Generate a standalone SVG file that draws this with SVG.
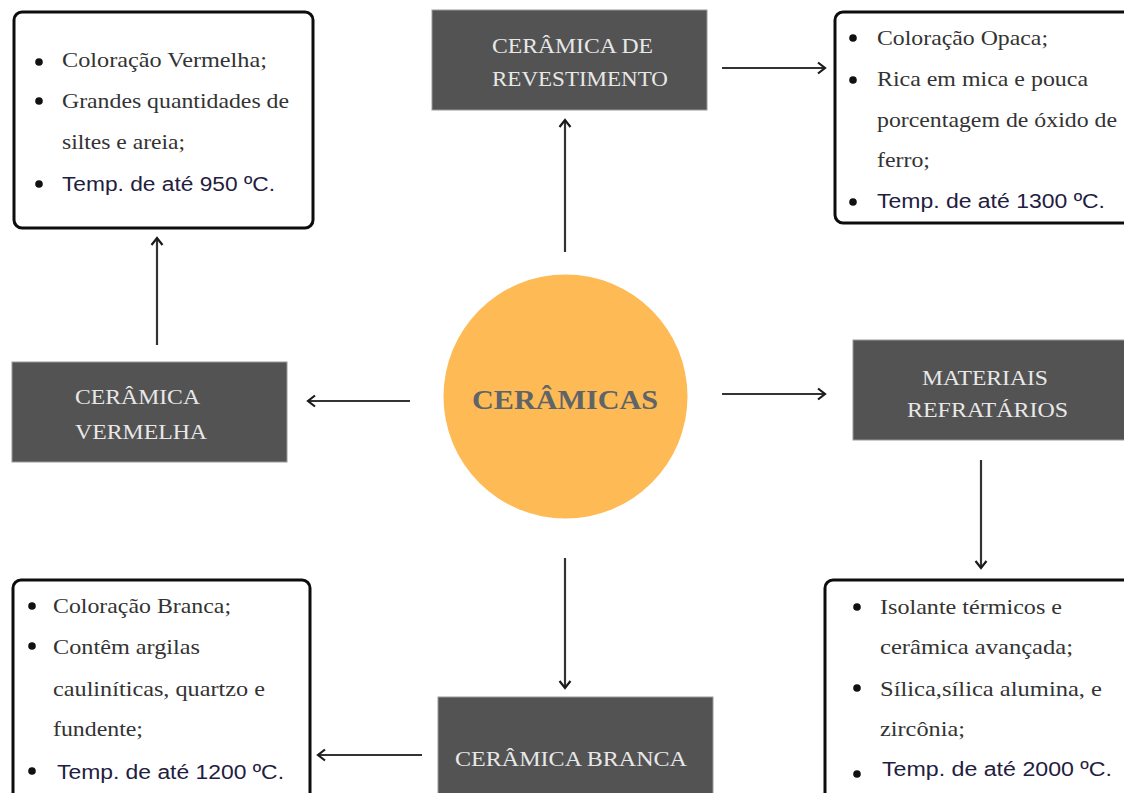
<svg xmlns="http://www.w3.org/2000/svg" width="1124" height="793" viewBox="0 0 1124 793">
<defs>
<marker id="ah" markerUnits="userSpaceOnUse" markerWidth="14" markerHeight="14" refX="10" refY="7" orient="auto">
<path d="M3,1.5 L10,7 L3,12.5" fill="none" stroke="#1a1a1a" stroke-width="2.2" stroke-linejoin="miter"/>
</marker>
<style>
.info{fill:#ffffff;stroke:#0d0d0d;stroke-width:3}
.dark{fill:#535353;stroke:#9a9a9a;stroke-width:1}
.dt{font-family:"Liberation Serif",serif;font-size:22px;fill:#e8e8e8}
.bt{font-family:"Liberation Serif",serif;font-size:22px;fill:#333333}
.tt{font-family:"Liberation Sans",sans-serif;font-size:20px;fill:#1f2040}
.bul{fill:#111111}
.conn{stroke:#333333;stroke-width:2.2;fill:none;marker-end:url(#ah)}
</style>
</defs>
<rect width="1124" height="793" fill="#ffffff"/>

<g id="connectors">
<line class="conn" x1="565" y1="252" x2="565" y2="120"/>
<line class="conn" x1="722" y1="68" x2="825" y2="68"/>
<line class="conn" x1="157" y1="345" x2="157" y2="238"/>
<line class="conn" x1="410" y1="401" x2="308" y2="401"/>
<line class="conn" x1="722" y1="394" x2="825" y2="394"/>
<line class="conn" x1="981" y1="460" x2="981" y2="568"/>
<line class="conn" x1="565" y1="558" x2="565" y2="688"/>
<line class="conn" x1="422" y1="755" x2="318" y2="755"/>
</g>

<g id="center">
<circle cx="565.5" cy="396.5" r="122" fill="#fdba55"/>
<text x="472" y="409" font-family="Liberation Serif,serif" font-weight="bold" font-size="28" fill="#5f6468" textLength="186" lengthAdjust="spacingAndGlyphs">CERÂMICAS</text>
</g>

<g id="revestimento">
<rect class="dark" x="432" y="10" width="275" height="100"/>
<text class="dt" x="492" y="53" textLength="161" lengthAdjust="spacingAndGlyphs">CERÂMICA DE</text>
<text class="dt" x="492" y="86" textLength="176" lengthAdjust="spacingAndGlyphs">REVESTIMENTO</text>
</g>

<g id="vermelha">
<rect class="dark" x="12" y="362" width="275" height="100"/>
<text class="dt" x="75" y="404" textLength="125" lengthAdjust="spacingAndGlyphs">CERÂMICA</text>
<text class="dt" x="75" y="439" textLength="132" lengthAdjust="spacingAndGlyphs">VERMELHA</text>
</g>

<g id="refratarios">
<rect class="dark" x="853" y="340" width="275" height="100"/>
<text class="dt" x="922" y="385" textLength="126" lengthAdjust="spacingAndGlyphs">MATERIAIS</text>
<text class="dt" x="907" y="417" textLength="161" lengthAdjust="spacingAndGlyphs">REFRATÁRIOS</text>
</g>

<g id="branca">
<rect class="dark" x="438" y="697" width="275" height="100"/>
<text class="dt" x="455" y="766" textLength="232" lengthAdjust="spacingAndGlyphs">CERÂMICA BRANCA</text>
</g>

<g id="info-vermelha">
<rect class="info" x="14" y="12" width="299" height="216" rx="8"/>
<circle class="bul" cx="39" cy="62" r="3.8"/>
<circle class="bul" cx="39" cy="101" r="3.8"/>
<circle class="bul" cx="39" cy="184" r="3.8"/>
<text class="bt" x="62" y="67" textLength="205" lengthAdjust="spacingAndGlyphs">Coloração Vermelha;</text>
<text class="bt" x="62" y="108" textLength="227" lengthAdjust="spacingAndGlyphs">Grandes quantidades de</text>
<text class="bt" x="62" y="149" textLength="123" lengthAdjust="spacingAndGlyphs">siltes e areia;</text>
<text class="tt" x="62" y="191" textLength="213" lengthAdjust="spacingAndGlyphs">Temp. de até 950 ºC.</text>
</g>

<g id="info-revestimento">
<rect class="info" x="835" y="12" width="300" height="211" rx="8"/>
<circle class="bul" cx="853" cy="38" r="3.8"/>
<circle class="bul" cx="853" cy="80" r="3.8"/>
<circle class="bul" cx="853" cy="202" r="3.8"/>
<text class="bt" x="877" y="45" textLength="171" lengthAdjust="spacingAndGlyphs">Coloração Opaca;</text>
<text class="bt" x="877" y="86" textLength="211" lengthAdjust="spacingAndGlyphs">Rica em mica e pouca</text>
<text class="bt" x="877" y="127" textLength="240" lengthAdjust="spacingAndGlyphs">porcentagem de óxido de</text>
<text class="bt" x="877" y="167" textLength="53" lengthAdjust="spacingAndGlyphs">ferro;</text>
<text class="tt" x="877" y="208" textLength="228" lengthAdjust="spacingAndGlyphs">Temp. de até 1300 ºC.</text>
</g>

<g id="info-branca">
<rect class="info" x="13" y="580" width="297" height="230" rx="8"/>
<circle class="bul" cx="32" cy="606" r="3.8"/>
<circle class="bul" cx="32" cy="646" r="3.8"/>
<circle class="bul" cx="32" cy="771" r="3.8"/>
<text class="bt" x="53" y="613" textLength="178" lengthAdjust="spacingAndGlyphs">Coloração Branca;</text>
<text class="bt" x="53" y="654" textLength="147" lengthAdjust="spacingAndGlyphs">Contêm argilas</text>
<text class="bt" x="53" y="696" textLength="212" lengthAdjust="spacingAndGlyphs">cauliníticas, quartzo e</text>
<text class="bt" x="53" y="736" textLength="90" lengthAdjust="spacingAndGlyphs">fundente;</text>
<text class="tt" x="57" y="779" textLength="227" lengthAdjust="spacingAndGlyphs">Temp. de até 1200 ºC.</text>
</g>

<g id="info-refratarios">
<rect class="info" x="825" y="580" width="310" height="230" rx="8"/>
<circle class="bul" cx="857" cy="607" r="3.8"/>
<circle class="bul" cx="857" cy="688" r="3.8"/>
<circle class="bul" cx="857" cy="774" r="3.8"/>
<text class="bt" x="880" y="614" textLength="182" lengthAdjust="spacingAndGlyphs">Isolante térmicos e</text>
<text class="bt" x="880" y="654" textLength="193" lengthAdjust="spacingAndGlyphs">cerâmica avançada;</text>
<text class="bt" x="880" y="696" textLength="222" lengthAdjust="spacingAndGlyphs">Sílica,sílica alumina, e</text>
<text class="bt" x="880" y="736" textLength="85" lengthAdjust="spacingAndGlyphs">zircônia;</text>
<text class="tt" x="882" y="776" textLength="230" lengthAdjust="spacingAndGlyphs">Temp. de até 2000 ºC.</text>
</g>
</svg>
